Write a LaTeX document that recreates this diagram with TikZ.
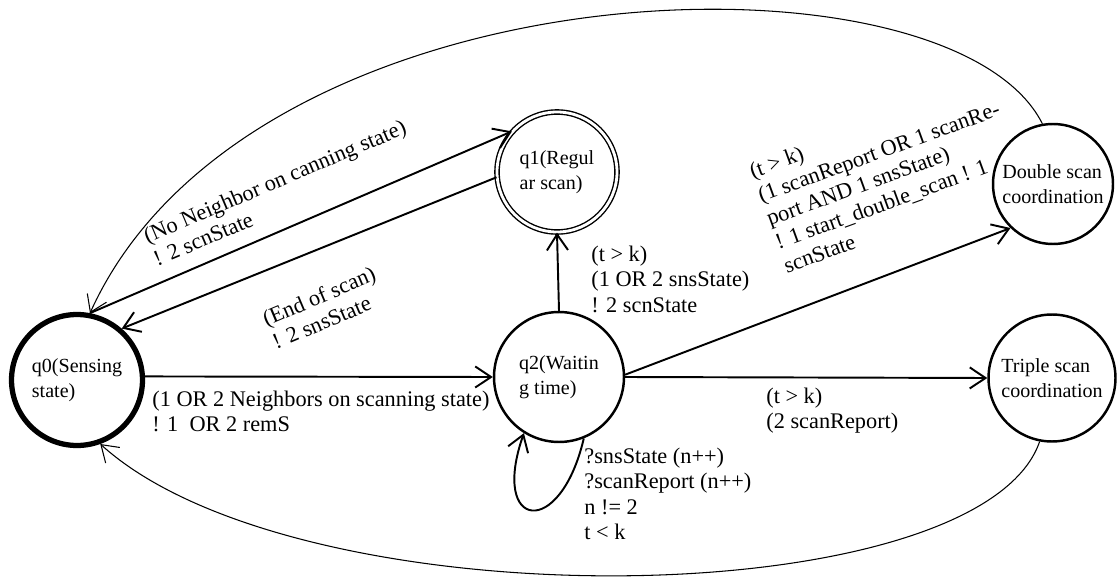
\documentclass[tikz,border=0pt]{standalone}
\usepackage{fontspec}
\setmainfont{Liberation Serif}
\usetikzlibrary{arrows.meta}
\begin{document}
\begin{tikzpicture}[x=0.02cm,y=0.02cm,
  nodetxt/.style={font=\fontsize{11.4}{14.5}\selectfont},
  lbltxt/.style={font=\fontsize{12.7}{14.3}\selectfont},
  state/.style={circle,draw,line width=1.4pt,inner sep=0pt,align=left,nodetxt},
  edge/.style={line width=1.1pt,-{Straight Barb[length=9pt,width=12pt]}},
  thinedge/.style={line width=0.6pt,-{Straight Barb[length=9pt,width=12pt]}},
  lbl/.style={inner sep=0pt,align=left,anchor=north west,lbltxt}]
\useasboundingbox (0,0) rectangle (1120,-581);

% states
\node[state,line width=3pt,minimum size=2.62cm] (q0) at (77,-380) {q0(Sensing\\state)};
\node[state,line width=0.8pt,double,double distance=1.6pt,minimum size=2.4cm] (q1) at (557,-172) {q1(Regul\\ar scan)};
\node[state,minimum size=2.6cm] (q2) at (559,-377) {q2(Waitin\\g time)};
\node[state,minimum size=2.4cm] (D) at (1053,-184) {Double scan\\coordination};
\node[state,minimum size=2.54cm] (T) at (1052,-378) {Triple scan\\coordination};

% transitions
\draw[edge] (q0.3) -- (q2.west);
\draw[edge] (q0.79) -- (q1.138);
\draw[edge] (q1.185) -- (q0.49);
\draw[edge] (q2.north) -- (q1.south);
\draw[edge] (q2.2) -- (D.226);
\draw[edge] (q2.east) -- (T.west);
\draw[edge] (q2.292) .. controls (560,-540) and (490,-530) .. (q2.238);
\draw[thinedge] (D.100) .. controls (950,60) and (250,40) .. (q0.79);
\draw[thinedge] (T.259) .. controls (980,-615) and (300,-625) .. (q0.290);

% labels
\node[lbl] (l02) at (152,-391) {(1 OR 2 Neighbors on scanning state)\\! 1\ \ OR 2 remS};
\node[lbl,rotate=23] (l01) at (141,-229) {(No Neighbor on canning state)\\! 2 scnState};
\node[lbl,rotate=23] (l10) at (260,-312) {(End of scan)\\! 2 snsState};
\node[lbl] (l21) at (591,-246) {(t > k)\\(1 OR 2 snsState)\\! 2 scnState};
\node[lbl,rotate=20] (l2d) at (747,-164) {(t > k)\\(1 scanReport OR 1 scanRe-\\port AND 1 snsState)\\! 1 start\_double\_scan ! 1\\scnState};
\node[lbl] (l2t) at (766,-388) {(t > k)\\(2 scanReport)};
\node[lbl] (l22) at (584,-448) {?snsState (n++)\\?scanReport (n++)\\n != 2\\t < k};
\end{tikzpicture}
\end{document}
